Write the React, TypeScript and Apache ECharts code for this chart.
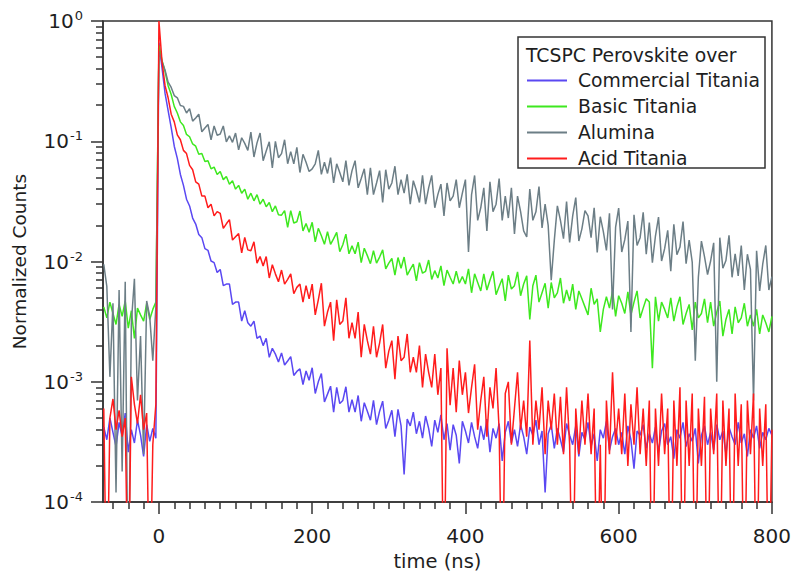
import React, { useEffect, useRef } from "react";
import * as echarts from "echarts";

const FONT = '"DejaVu Sans", "Liberation Sans", sans-serif';

// time grid (ns)
const TIME_START = -72;
const TIME_STEP = 4;

const SERIES_NAMES = ["Commercial Titania", "Basic Titania", "Alumina", "Acid Titania"];
const SERIES_COLORS = ["#5a48f2", "#3ee81f", "#6c7e86", "#ff1c1c"];

// pre-pulse background, t = -72 .. -4
const BLUE_PRE = [4.2e-4, 3.3e-4, 5.0e-4, 3.8e-4, 2.9e-4, 4.6e-4, 3.5e-4, 5.5e-4, 2.6e-4, 4.0e-4, 3.1e-4, 4.8e-4, 3.6e-4, 2.4e-4, 4.4e-4, 3.2e-4, 4.1e-4, 3.4e-4];
// decay, t = 0 .. 800
const BLUE_DECAY = [
  0.66, 0.41, 0.25, 0.18, 0.13, 0.091, 0.072, 0.053, 0.043, 0.033,
  0.029, 0.023, 0.0205, 0.0168, 0.0158, 0.0128, 0.0124, 0.0101, 0.0098, 0.0081,
  0.0086, 0.0063, 0.0065, 0.0065, 0.0044, 0.0046, 0.0046, 0.0032, 0.0039, 0.0031,
  0.0029, 0.0032, 0.0023, 0.0024, 0.002, 0.0023, 0.0016, 0.0019, 0.0017, 0.00146,
  0.00174, 0.00138, 0.00149, 0.00162, 0.00113, 0.00122, 0.00128, 0.00095, 0.00123, 0.00103,
  0.00131, 0.0008, 0.001, 0.00117, 0.00068, 0.00079, 0.00092, 0.00056, 0.0009, 0.00066,
  0.0007, 0.00091, 0.00056, 0.00071, 0.00056, 0.00077, 0.00047, 0.00067, 0.00057, 0.00048,
  0.0007, 0.00044, 0.00057, 0.00069, 0.00041, 0.00048, 0.00058, 0.00035, 0.00059, 0.00043,
  0.00017, 0.00049, 0.00043, 0.00056, 0.00037, 0.00047, 0.00034, 0.00052, 0.00041, 0.00029,
  0.00048, 0.00038, 0.00053, 0.00033, 0.00045, 0.00027, 0.00044, 0.00036, 0.00021, 0.00047,
  0.00039, 0.00031, 0.00046, 0.00035, 0.00028, 0.00043, 0.00033, 0.00049, 0.00026, 0.00041,
  0.00034, 0.00045, 0.00022, 0.00038, 0.00047, 0.00031, 0.0004, 0.00029, 0.00044, 0.00035,
  0.00025, 0.00042, 0.00036, 0.00048, 0.0003, 0.00039, 0.00012, 0.00037, 0.00044, 0.00028,
  0.00041, 0.00033, 0.00026, 0.00045, 0.00036, 0.0003, 0.00043, 0.00024, 0.00038, 0.00033,
  0.00046, 0.00029, 0.00037, 0.00022, 0.0004, 0.00034, 0.00047, 0.00027, 0.00035, 0.00041,
  0.0003, 0.00038, 0.00025, 0.00043, 0.00033, 0.00019, 0.00039, 0.00036, 0.00044, 0.00028,
  0.00037, 0.00031, 0.00042, 0.00026, 0.00039, 0.00045, 0.0003, 0.00035, 0.00023, 0.0004,
  0.00034, 0.00046, 0.00029, 0.00037, 0.00032, 0.00041, 0.00021, 0.00036, 0.00043, 0.0003,
  0.00038, 0.00027, 0.00044, 0.00033, 0.00039, 0.00025, 0.00042, 0.00035, 0.0003, 0.00046,
  0.00031, 0.00037, 0.00024, 0.0004, 0.00034, 0.00043, 0.00028, 0.00038, 0.00033, 0.00041, 0.00036,
];

const GREEN_PRE = [0.0042, 0.0034, 0.0046, 0.0037, 0.003, 0.0044, 0.0035, 0.0047, 0.0028, 0.0039, 0.0023, 0.0041, 0.0036, 0.0032, 0.0045, 0.0033, 0.004, 0.0046];
const GREEN_DECAY = [
  0.63, 0.47, 0.38, 0.29, 0.245, 0.195, 0.172, 0.145, 0.135, 0.114,
  0.109, 0.095, 0.091, 0.078, 0.079, 0.068, 0.069, 0.059, 0.061, 0.053,
  0.056, 0.048, 0.051, 0.044, 0.047, 0.04, 0.043, 0.037, 0.04, 0.033,
  0.037, 0.032, 0.036, 0.03, 0.033, 0.0285, 0.031, 0.026, 0.029, 0.0245,
  0.0243, 0.0265, 0.0192, 0.0265, 0.0209, 0.0214, 0.0263, 0.018, 0.0207, 0.0175,
  0.0212, 0.0146, 0.0189, 0.0164, 0.0139, 0.0177, 0.0139, 0.0155, 0.0175, 0.0121,
  0.0138, 0.0169, 0.0116, 0.0135, 0.0116, 0.0145, 0.0098, 0.0129, 0.0112, 0.0096,
  0.0123, 0.0097, 0.0109, 0.0125, 0.0087, 0.0097, 0.0106, 0.0077, 0.0108, 0.0088,
  0.0109, 0.0077, 0.0086, 0.0095, 0.0069, 0.0098, 0.008, 0.0083, 0.0103, 0.0071,
  0.0084, 0.0073, 0.0092, 0.0063, 0.0085, 0.0074, 0.0065, 0.0083, 0.0066, 0.0075,
  0.0065, 0.0087, 0.0055, 0.0079, 0.0067, 0.0057, 0.0079, 0.0058, 0.007, 0.0083,
  0.0053, 0.0062, 0.0072, 0.0047, 0.0077, 0.0059, 0.0063, 0.0082, 0.0052, 0.0065,
  0.0076, 0.0033, 0.0063, 0.0077, 0.0046, 0.0055, 0.0066, 0.0041, 0.0067, 0.005,
  0.0055, 0.0073, 0.0045, 0.0058, 0.0047, 0.0065, 0.004, 0.0057, 0.0049, 0.0042,
  0.0036, 0.006, 0.0044, 0.0049, 0.0026, 0.004, 0.0051, 0.0041, 0.0057, 0.0035,
  0.0052, 0.0045, 0.0037, 0.0056, 0.0036, 0.0046, 0.0057, 0.0034, 0.0041, 0.0049,
  0.0046, 0.0013, 0.0051, 0.0032, 0.0046, 0.004, 0.0034, 0.005, 0.0032, 0.0042,
  0.0051, 0.003, 0.0037, 0.0044, 0.0027, 0.0046, 0.0034, 0.0037, 0.0049, 0.0031,
  0.0046, 0.0029, 0.0038, 0.0047, 0.0024, 0.0033, 0.004, 0.0025, 0.0042, 0.0031,
  0.0034, 0.0045, 0.0029, 0.0036, 0.0029, 0.004, 0.0025, 0.0036, 0.0031, 0.0026, 0.0035,
];

const GRAY_PRE = [0.0095, 0.0062, 0.0011, 0.0045, 0.00012, 0.0058, 0.00018, 0.0068, 0.00001, 0.0031, 0.0072, 0.0007, 0.0024, 0.00025, 0.0047, 0.0035, 0.0015, 0.0042];
const GRAY_DECAY = [
  0.56, 0.46, 0.39, 0.31, 0.28, 0.24, 0.23, 0.198, 0.195, 0.172,
  0.187, 0.147, 0.156, 0.168, 0.12, 0.129, 0.138, 0.103, 0.134, 0.112,
  0.115, 0.134, 0.099, 0.111, 0.098, 0.117, 0.085, 0.107, 0.096, 0.084,
  0.119, 0.074, 0.097, 0.117, 0.069, 0.083, 0.099, 0.06, 0.1, 0.073,
  0.079, 0.103, 0.065, 0.082, 0.065, 0.089, 0.055, 0.078, 0.067, 0.056,
  0.059, 0.065, 0.084, 0.053, 0.067, 0.054, 0.073, 0.045, 0.065, 0.055,
  0.046, 0.069, 0.043, 0.057, 0.069, 0.041, 0.049, 0.059, 0.036, 0.06,
  0.036, 0.045, 0.057, 0.031, 0.058, 0.04, 0.045, 0.062, 0.036, 0.048,
  0.037, 0.053, 0.03, 0.047, 0.039, 0.031, 0.052, 0.03, 0.041, 0.052,
  0.028, 0.036, 0.044, 0.024, 0.045, 0.032, 0.035, 0.048, 0.028, 0.037,
  0.048, 0.012, 0.036, 0.052, 0.022, 0.028, 0.041, 0.018, 0.046, 0.026,
  0.03, 0.049, 0.022, 0.035, 0.023, 0.041, 0.017, 0.035, 0.026, 0.018,
  0.016, 0.04, 0.022, 0.0259, 0.042, 0.019, 0.03, 0.02, 0.007, 0.015,
  0.029, 0.022, 0.0155, 0.0315, 0.0144, 0.024, 0.034, 0.0148, 0.0187, 0.0265,
  0.024, 0.0158, 0.028, 0.0119, 0.0236, 0.0177, 0.0124, 0.0252, 0.004, 0.0193,
  0.0278, 0.012, 0.0152, 0.0217, 0.0026, 0.0245, 0.0136, 0.0158, 0.0257, 0.0115,
  0.0211, 0.0098, 0.0163, 0.0234, 0.0101, 0.0128, 0.0182, 0.0083, 0.0204, 0.0114,
  0.0132, 0.0215, 0.0096, 0.0151, 0.0099, 0.0015, 0.0074, 0.0148, 0.011, 0.0078,
  0.0101, 0.0143, 0.001, 0.0158, 0.0088, 0.0102, 0.0165, 0.0074, 0.0116, 0.0076,
  0.0136, 0.0058, 0.0115, 0.0086, 0.0007, 0.0123, 0.0057, 0.0095, 0.0136, 0.0058, 0.0075,
];

const RED_PRE = [0.0006, 0.00001, 0.0005, 0.00072, 0.0004, 0.00058, 0.00035, 0.0005, 0.00001, 0.0011, 0.00065, 0.00045, 0.00078, 0.0004, 0.00055, 0.00001, 0.0003, 0.00065];
const RED_DECAY = [
  1.0, 0.46, 0.29, 0.23, 0.168, 0.145, 0.113, 0.103, 0.084, 0.079,
  0.063, 0.058, 0.046, 0.044, 0.035, 0.035, 0.028, 0.03, 0.024, 0.026,
  0.0251, 0.0189, 0.0206, 0.0223, 0.0151, 0.0161, 0.0171, 0.0118, 0.0159, 0.0125,
  0.0123, 0.0146, 0.0097, 0.011, 0.0092, 0.011, 0.0073, 0.0094, 0.0079, 0.0068,
  0.0085, 0.0065, 0.0071, 0.0079, 0.0054, 0.0061, 0.0065, 0.0046, 0.0063, 0.0049,
  0.0065, 0.0036, 0.0048, 0.0066, 0.0029, 0.0038, 0.0046, 0.0022, 0.0048, 0.003,
  0.0032, 0.005, 0.0023, 0.0031, 0.0023, 0.0038, 0.0016, 0.003, 0.0022, 0.0017,
  0.0029, 0.0016, 0.0021, 0.003, 0.0013, 0.0018, 0.0022, 0.00105, 0.0024, 0.0015,
  0.0016, 0.0025, 0.0012, 0.0016, 0.0012, 0.002, 0.0009, 0.0017, 0.0012, 0.0009,
  0.0017, 0.00078, 0.0013, 0.00001, 0.0019, 0.00064, 0.0013, 0.00056, 0.0015, 0.00078,
  0.0012, 0.00055, 0.0009, 0.0014, 0.0004, 0.0007, 0.0011, 0.00035, 0.0009, 0.0006,
  0.0013, 0.0004, 0.00001, 0.0008, 0.001, 0.0003, 0.0006, 0.0012, 0.0004, 0.0007,
  0.00035, 0.0022, 0.0003, 0.0007, 0.0004, 0.0009, 0.00025, 0.0007, 0.0004, 0.0008,
  0.0003, 0.00075, 0.00025, 0.0009, 0.0003, 0.00001, 0.0006, 0.00025, 0.0007, 0.0003,
  0.0008, 0.00025, 0.0006, 0.00001, 0.0003, 0.00001, 0.0007, 0.00025, 0.0012, 0.0003,
  0.0006, 0.00025, 0.0008, 0.0002, 0.00065, 0.0003, 0.0009, 0.00025, 0.0006, 0.0002,
  0.0007, 0.00001, 0.0006, 0.0002, 0.0008, 0.00025, 0.0006, 0.00001, 0.0007, 0.0002,
  0.0009, 0.00001, 0.0007, 0.0002, 0.0008, 0.00001, 0.0006, 0.0002, 0.00075, 0.00001,
  0.0006, 0.00025, 0.0008, 0.00001, 0.0007, 0.0002, 0.0006, 0.00001, 0.0008, 0.0002,
  0.00065, 0.00001, 0.0007, 0.00025, 0.0008, 0.00001, 0.0006, 0.0002, 0.00065, 0.00001, 0.0004,
];

const X_MAJOR_TICKS = [0, 200, 400, 600, 800];
const X_MINOR_TICKS = [-60, -40, -20, 20, 40, 60, 80, 100, 120, 140, 160, 180, 220, 240, 260, 280, 300, 320, 340, 360, 380, 420, 440, 460, 480, 500, 520, 540, 560, 580, 620, 640, 660, 680, 700, 720, 740, 760, 780];
const Y_MIN = 1e-4;
const Y_MAX = 1;
const Y_MINOR_MULTIPLIERS = [2, 3, 4, 5, 6, 7, 8, 9];
const Y_DECADES = [-4, -3, -2, -1];

const LEGEND_TITLE = "TCSPC Perovskite over";
const X_NAME = "time (ns)";
const Y_NAME = "Normalized Counts";

function toPairs(pre: number[], decay: number[]) {
  const vals = pre.concat(decay);
  return vals.map((v, i) => [TIME_START + i * TIME_STEP, v]);
}

export default function App() {
  const ref = useRef<HTMLDivElement>(null);
  useEffect(() => {
    if (!ref.current) return;
    const chart = echarts.init(ref.current, undefined, { renderer: "svg" });
    const seriesData = [
      toPairs(BLUE_PRE, BLUE_DECAY),
      toPairs(GREEN_PRE, GREEN_DECAY),
      toPairs(GRAY_PRE, GRAY_DECAY),
      toPairs(RED_PRE, RED_DECAY),
    ];
    const yMinorExp: number[] = [];
    Y_DECADES.forEach((d) => Y_MINOR_MULTIPLIERS.forEach((m) => yMinorExp.push(d + Math.log10(m))));
    const axisColor = "#333";
    const textColor = "#1e1e1e";
    chart.setOption({
      animation: false,
      backgroundColor: "#fff",
      grid: {
        left: 103,
        right: 19,
        top: 21,
        bottom: 73,
        show: true,
        borderColor: axisColor,
        borderWidth: 1.5,
        backgroundColor: "transparent",
      },
      legend: {
        data: SERIES_NAMES,
        orient: "vertical",
        left: 527,
        top: 71,
        padding: 0,
        itemGap: 7,
        itemWidth: 40,
        itemHeight: 2,
        icon: "rect",
        textStyle: { fontFamily: FONT, fontSize: 18.8, color: textColor, lineHeight: 18, padding: [0, 0, 0, 6] },
        selectedMode: false,
        z: 110,
      },
      xAxis: [
        {
          type: "value",
          min: -73,
          max: 800,
          position: "bottom",
          axisLine: { show: true, onZero: false, lineStyle: { color: axisColor, width: 1.5 } },
          axisTick: { show: true, length: 12, customValues: X_MAJOR_TICKS, lineStyle: { color: axisColor, width: 1.5 } },
          axisLabel: { customValues: X_MAJOR_TICKS, fontFamily: FONT, fontSize: 20, color: textColor, margin: 24 },
          splitLine: { show: false },
          name: X_NAME,
          nameLocation: "middle",
          nameGap: 48,
          nameTextStyle: { fontFamily: FONT, fontSize: 19.5, color: textColor },
        },
        {
          type: "value",
          min: -73,
          max: 800,
          position: "bottom",
          axisLine: { show: false, onZero: false },
          axisTick: { show: true, length: 7, customValues: X_MINOR_TICKS, lineStyle: { color: axisColor, width: 1.5 } },
          axisLabel: { show: false },
          splitLine: { show: false },
        },
      ],
      yAxis: [
        {
          type: "log",
          logBase: 10,
          min: Y_MIN,
          max: Y_MAX,
          position: "left",
          axisLine: { show: true, onZero: false, lineStyle: { color: axisColor, width: 1.5 } },
          axisTick: { show: true, length: 12, lineStyle: { color: axisColor, width: 1.5 } },
          axisLabel: {
            margin: 20,
            formatter: (v: number) => `{b|10}{s|${Math.round(Math.log10(v))}}`,
            rich: {
              b: { fontFamily: FONT, fontSize: 20, color: textColor, lineHeight: 24 },
              s: { fontFamily: FONT, fontSize: 13, color: textColor, verticalAlign: "top", lineHeight: 24, padding: [0, 0, 0, 1] },
            },
          },
          splitLine: { show: false },
          name: Y_NAME,
          nameLocation: "middle",
          nameGap: 74,
          nameTextStyle: { fontFamily: FONT, fontSize: 18.5, color: textColor },
        },
        {
          type: "value",
          min: -4,
          max: 0,
          position: "left",
          axisLine: { show: false, onZero: false },
          axisTick: { show: true, length: 7, customValues: yMinorExp, lineStyle: { color: axisColor, width: 1.5 } },
          axisLabel: { show: false },
          splitLine: { show: false },
        },
      ],
      graphic: [
        {
          type: "rect",
          z: 100,
          shape: { x: 518, y: 37, width: 247, height: 131 },
          style: { fill: "#fff", stroke: axisColor, lineWidth: 1.5 },
        },
        {
          type: "text",
          z: 101,
          x: 526,
          y: 55,
          style: { text: LEGEND_TITLE, font: `18.8px ${FONT}`, fill: textColor, verticalAlign: "middle" },
        },
      ],
      series: SERIES_NAMES.map((name, i) => ({
        name,
        type: "line",
        xAxisIndex: 0,
        yAxisIndex: 0,
        data: seriesData[i],
        showSymbol: false,
        symbol: "none",
        silent: true,
        clip: true,
        lineStyle: { color: SERIES_COLORS[i], width: 1.5 },
        itemStyle: { color: SERIES_COLORS[i] },
        z: 2 + i,
      })),
    });
    return () => chart.dispose();
  }, []);
  return (
    <div
      ref={ref}
      style={{ position: "fixed", left: 0, top: 0, width: 794, height: 576, background: "#fff" }}
    />
  );
}
